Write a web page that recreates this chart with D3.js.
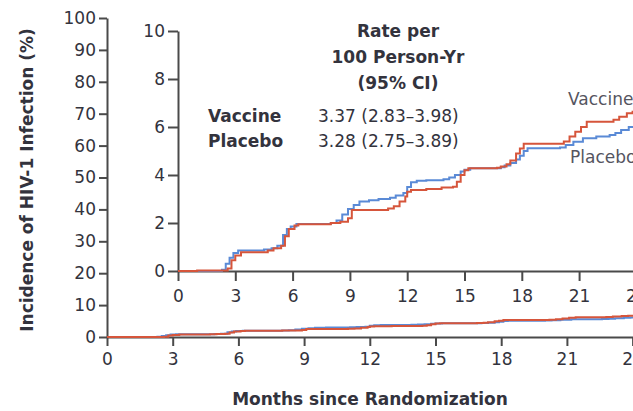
<!DOCTYPE html>
<html><head><meta charset="utf-8">
<script src="https://cdn.jsdelivr.net/npm/d3@7"></script>
<style>
html,body{margin:0;padding:0;background:#fff;}
svg{display:block;font-family:"DejaVu Sans",sans-serif;}
</style></head>
<body><svg id="c" width="633" height="411"></svg>
<script>
// ---- data ----
const vaccineMonths = [0,1.0,2.6,2.8,3.0,3.3,4.7,5.0,5.4,5.6,5.8,6.1,6.3,8.0,8.5,8.9,9.1,11.0,11.3,11.6,11.9,12.0,12.2,13.0,13.8,14.4,14.6,14.8,15.0,15.2,16.7,16.9,17.2,17.4,17.7,17.9,18.1,20.2,20.5,20.8,21.1,21.4,22.8,23.1,23.5,23.8,24.3];
const vaccineIncidence = [0,0.02,0.1,0.45,0.65,0.78,0.85,0.95,1.05,1.45,1.75,1.9,1.95,2.0,2.05,2.2,2.54,2.6,2.7,2.9,3.1,3.3,3.37,3.42,3.48,3.51,3.72,4.0,4.2,4.28,4.3,4.35,4.45,4.6,4.9,5.1,5.3,5.4,5.6,5.8,6.0,6.22,6.3,6.43,6.57,6.64,6.7];
const placeboMonths = [0,2.3,2.5,2.7,2.9,3.15,4.5,4.9,5.2,5.5,5.7,5.9,6.2,8.0,8.3,8.6,8.9,9.2,9.5,10.0,10.5,11.1,11.4,11.8,12.0,12.2,12.5,13.0,13.9,14.2,14.5,14.8,15.0,15.3,16.9,17.1,17.4,17.7,17.9,18.1,18.3,20.0,20.3,20.7,21.2,21.9,22.6,22.9,23.2,23.6,23.9,24.3];
const placeboIncidence = [0,0.05,0.3,0.55,0.75,0.85,0.9,0.95,1.05,1.5,1.75,1.85,1.96,2.0,2.1,2.35,2.58,2.75,2.9,2.95,3.0,3.05,3.15,3.25,3.5,3.7,3.76,3.78,3.82,3.9,4.0,4.15,4.22,4.28,4.32,4.4,4.5,4.65,4.8,5.0,5.11,5.15,5.25,5.39,5.53,5.6,5.67,5.75,5.87,6.0,6.15,6.25];
const mainYTicks = [0,10,20,30,40,50,60,70,80,90,100];
const insetYTicks = [0,2,4,6,8,10];
const monthTicks = [0,3,6,9,12,15,18,21,24];
const headerLines = ["Rate per","100 Person-Yr","(95% CI)"];
const groupNames = ["Vaccine","Placebo"];
const groupRates = ["3.37 (2.83–3.98)","3.28 (2.75–3.89)"];

const svg = d3.select("#c");
const TXT = "#33333d", AX = "#4a4a4a";
const RED = "#d6553b", BLUE = "#5a8ad6";
const FONT = "DejaVu Sans, sans-serif";

const vaccine = vaccineMonths.map((m,i)=>({m, v: vaccineIncidence[i]}));
const placebo = placeboMonths.map((m,i)=>({m, v: placeboIncidence[i]}));

function styleAxis(g){
  g.select(".domain").attr("stroke",AX).attr("stroke-width",2);
  g.selectAll(".tick line").attr("stroke",AX).attr("stroke-width",2);
  g.selectAll(".tick text").attr("fill",TXT).attr("font-size",17).attr("font-family",FONT);
}

// ---- main plot ----
const x = d3.scaleLinear().domain([0,36]).range([107, 107 + 36*21.9]);
const y = d3.scaleLinear().domain([0,100]).range([337,18]);

const gx = svg.append("g").attr("transform","translate(0,337)")
  .call(d3.axisBottom(x).tickValues(monthTicks).tickFormat(d3.format("d")).tickSize(9).tickPadding(7).tickSizeOuter(0));
styleAxis(gx);
const gy = svg.append("g").attr("transform","translate(107,0)")
  .call(d3.axisLeft(y).tickValues(mainYTicks).tickSize(8).tickPadding(3).tickSizeOuter(0));
styleAxis(gy);

const lineMain = d3.line().x(d=>x(d.m)).y(d=>y(d.v)).curve(d3.curveStepAfter);
svg.append("path").datum(placebo).attr("d",lineMain).attr("fill","none").attr("stroke",BLUE).attr("stroke-width",2);
svg.append("path").datum(vaccine).attr("d",lineMain).attr("fill","none").attr("stroke",RED).attr("stroke-width",2);

svg.append("text").attr("x",370).attr("y",405).attr("text-anchor","middle")
  .attr("font-weight","bold").attr("font-size",17).attr("fill",TXT).text("Months since Randomization");
svg.append("text").attr("transform","translate(33,180) rotate(-90)").attr("text-anchor","middle")
  .attr("font-weight","bold").attr("font-size",17).attr("fill",TXT).text("Incidence of HIV-1 Infection (%)");

// ---- inset ----
const xi = d3.scaleLinear().domain([0,36]).range([178, 178 + 36*19.1]);
const yi = d3.scaleLinear().domain([0,10]).range([271,31]);

const gxi = svg.append("g").attr("transform","translate(0,271)")
  .call(d3.axisBottom(xi).tickValues(monthTicks).tickFormat(d3.format("d")).tickSize(10).tickPadding(9).tickSizeOuter(0));
styleAxis(gxi);
const gyi = svg.append("g").attr("transform","translate(178,0)")
  .call(d3.axisLeft(yi).tickValues(insetYTicks).tickSize(10).tickPadding(3).tickSizeOuter(0));
styleAxis(gyi);

const lineInset = d3.line().x(d=>xi(d.m)).y(d=>yi(d.v)).curve(d3.curveStepAfter);
svg.append("path").datum(placebo).attr("d",lineInset).attr("fill","none").attr("stroke",BLUE).attr("stroke-width",2);
svg.append("path").datum(vaccine).attr("d",lineInset).attr("fill","none").attr("stroke",RED).attr("stroke-width",2);

// header
svg.selectAll("text.hdr").data(headerLines).enter().append("text").attr("class","hdr")
  .attr("x",398).attr("y",(d,i)=>37+i*26).attr("text-anchor","middle")
  .attr("font-weight","bold").attr("font-size",17).attr("fill",TXT).text(d=>d);
svg.selectAll("text.grp").data(groupNames).enter().append("text").attr("class","grp")
  .attr("x",208).attr("y",(d,i)=>122+i*25)
  .attr("font-weight","bold").attr("font-size",17).attr("fill",TXT).text(d=>d);
svg.selectAll("text.rate").data(groupRates).enter().append("text").attr("class","rate")
  .attr("x",318).attr("y",(d,i)=>122+i*25)
  .attr("font-size",17).attr("fill",TXT).text(d=>d);

// curve labels
svg.append("text").attr("x",568).attr("y",105).attr("font-size",17).attr("fill","#55555f").text(groupNames[0]);
svg.append("text").attr("x",570).attr("y",163).attr("font-size",17).attr("fill","#55555f").text(groupNames[1]);
</script></body></html>
